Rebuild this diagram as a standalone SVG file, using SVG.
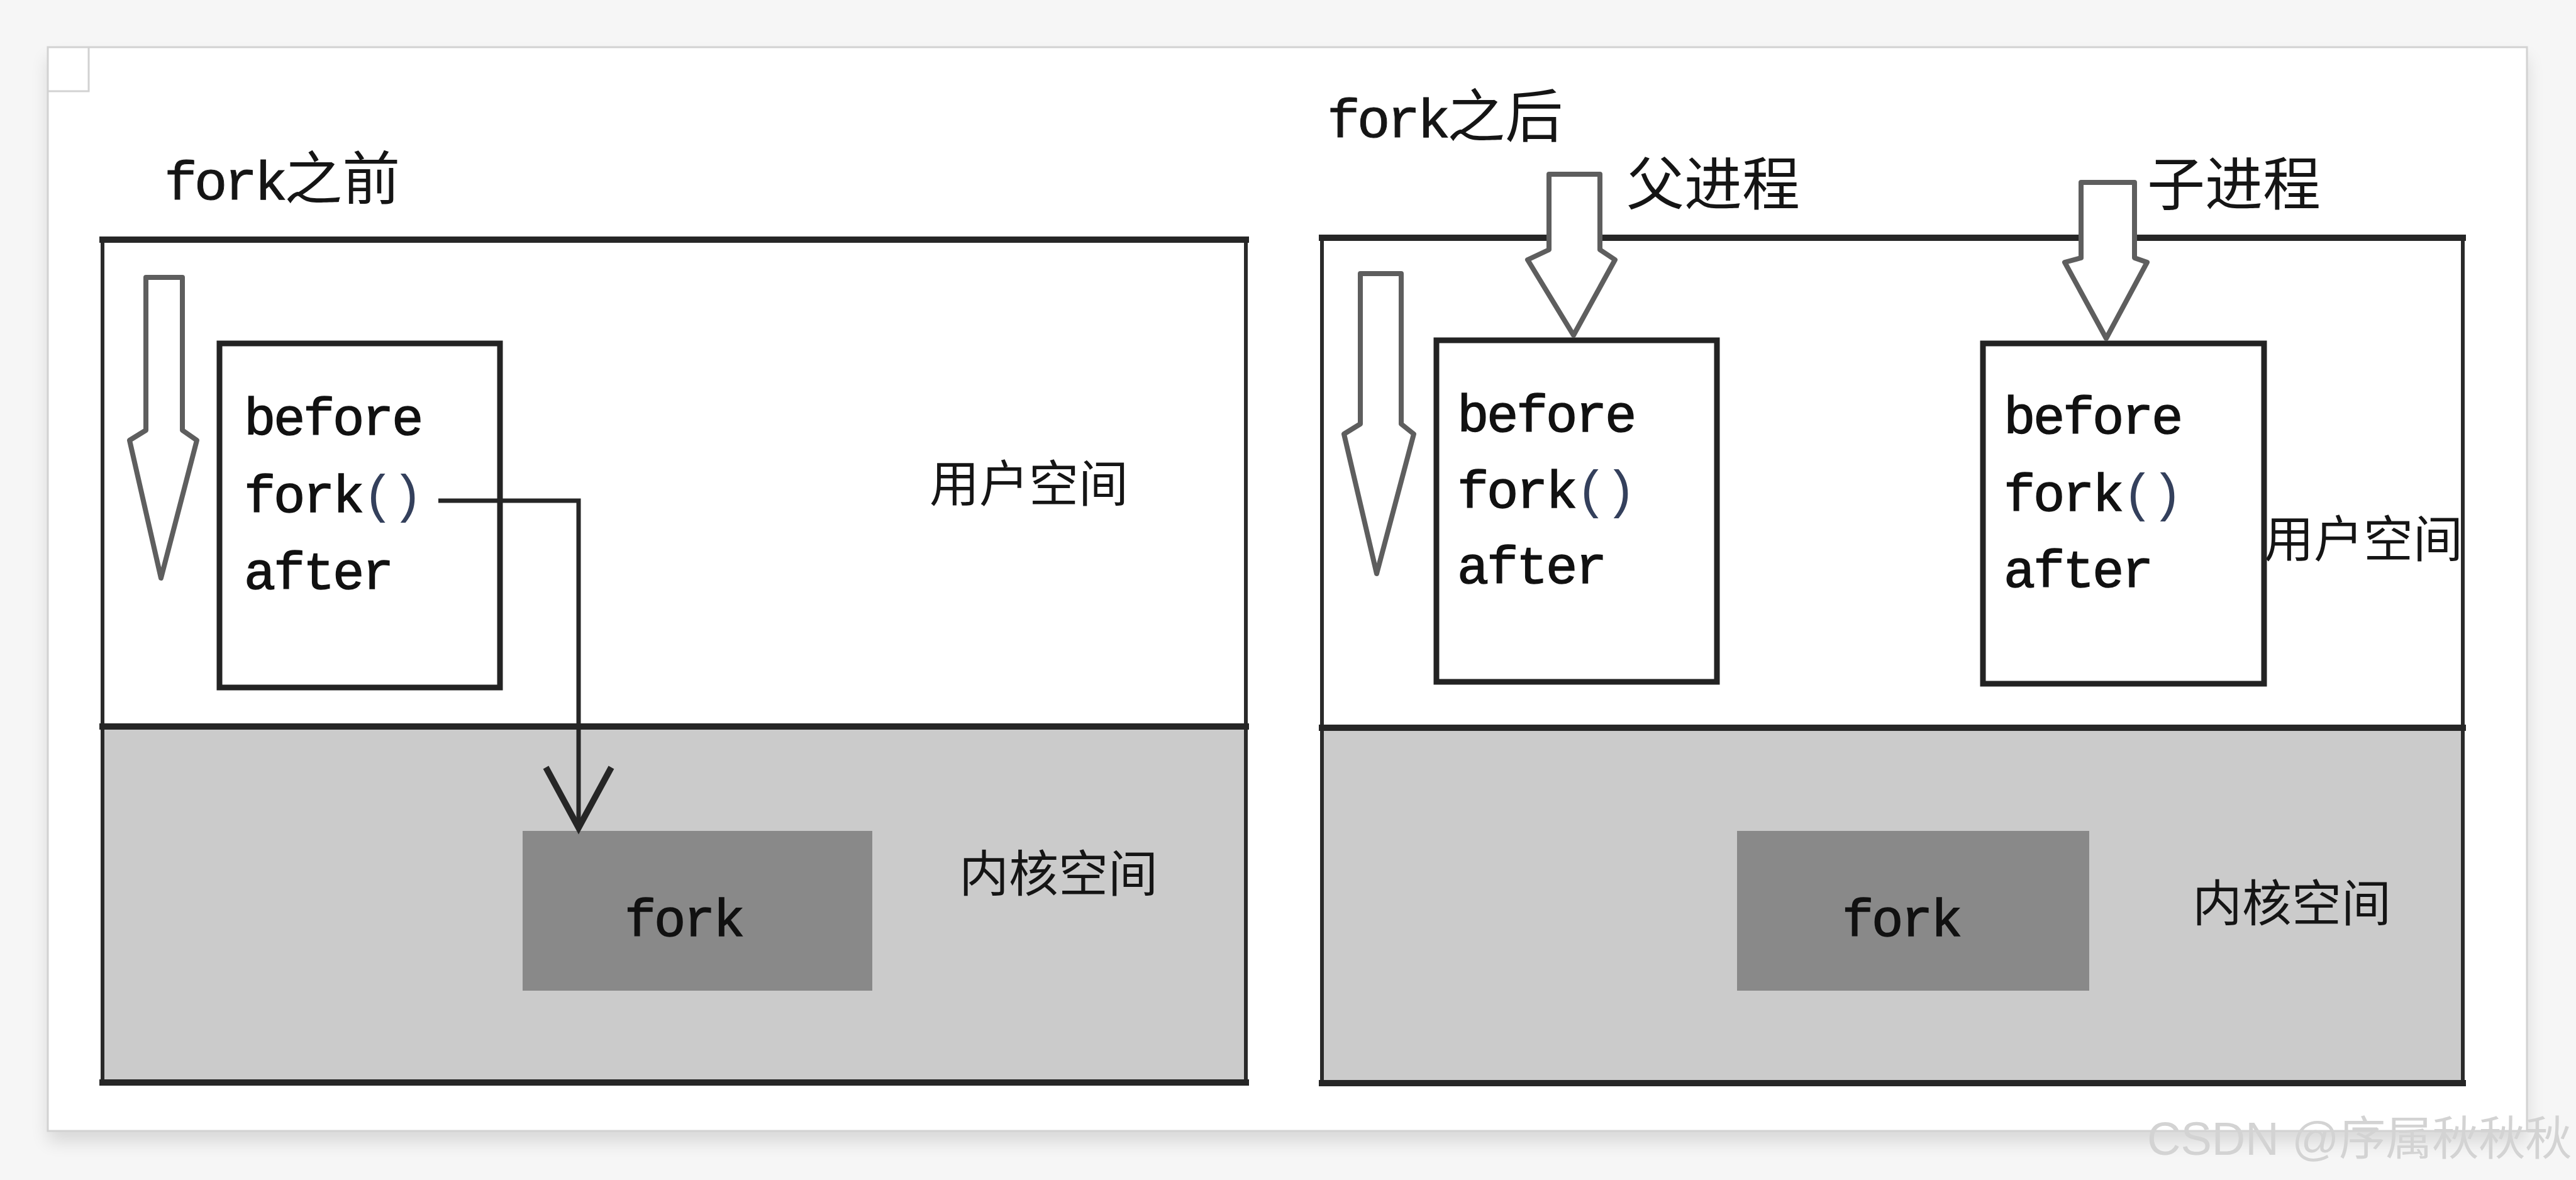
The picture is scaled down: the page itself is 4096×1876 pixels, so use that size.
<svg xmlns="http://www.w3.org/2000/svg" width="4096" height="1876" viewBox="0 0 4096 1876">
<defs>
<filter id="sh" x="-5%" y="-5%" width="110%" height="115%"><feGaussianBlur stdDeviation="14"/></filter>
</defs>
<style>
.code{font-family:"Liberation Mono",monospace;font-size:84px;letter-spacing:-3.4px;fill:#111111;stroke:#111111;stroke-width:1.5px}
.title{font-family:"Liberation Mono",monospace;font-size:88px;letter-spacing:-5px;fill:#151515;stroke:#151515;stroke-width:1px}
.cjk{font-family:"Noto Sans CJK SC",sans-serif;fill:#151515}
.lbl{font-size:79px}
.head{font-size:92px}
.user{fill:#ffffff}
.kern{fill:#cbcbcb}
.edge{fill:none;stroke:#2a2a2a;stroke-width:6}
.bar{stroke:#262626;stroke-width:10;stroke-linecap:square}
.codebox{fill:#ffffff;stroke:#232323;stroke-width:9}
.forkbox{fill:#898989}
.blk{fill:#ffffff;stroke:#5e5e5e;stroke-width:8;stroke-linejoin:round}
.conn{fill:none;stroke:#262626;stroke-width:7}
.vhead{fill:none;stroke:#262626;stroke-width:10;stroke-linejoin:miter}
.par{fill:#34405c;stroke:none}
</style>
<rect x="0" y="0" width="4096" height="1876" fill="#f6f6f6"/>
<rect x="76" y="92" width="3942" height="1723" fill="#000" opacity="0.12" filter="url(#sh)"/>
<g id="page">
<rect x="76" y="75" width="3942" height="1723" fill="#ffffff" stroke="#d2d2d2" stroke-width="3"/>
<path d="M76 145 H141 V75" fill="none" stroke="#d2d2d2" stroke-width="3"/>
</g>

<g id="left-panel">
<g id="left-user-space">
<rect class="user" x="163" y="381" width="1818" height="774"/>
</g>
<g id="left-kernel-space">
<rect class="kern" x="163" y="1155" width="1818" height="566"/>
</g>
<rect class="edge" x="163" y="381" width="1818" height="1340"/>
<line class="bar" x1="163" y1="381" x2="1981" y2="381"/>
<line class="bar" x1="163" y1="1155" x2="1981" y2="1155"/>
<line class="bar" x1="163" y1="1721" x2="1981" y2="1721"/>
<text class="cjk lbl" x="1478" y="798">用户空间</text>
<text class="cjk lbl" x="1525" y="1418">内核空间</text>
</g>
<g id="left-title"><text x="261" y="317"><tspan class="title">fork</tspan><tspan class="cjk head">之前</tspan></text></g>
<g id="left-code">
<rect class="codebox" x="349" y="546" width="446" height="547"/>
<text class="code" x="388" y="691">before</text>
<text class="code" x="388" y="814">fork<tspan class="par">()</tspan></text>
<text class="code" x="388" y="936">after</text>
</g>
<g id="left-fork">
<rect class="forkbox" x="831" y="1321" width="556" height="254"/>
<text class="code" x="1087" y="1488" text-anchor="middle">fork</text>
</g>

<g id="right-panel">
<g id="right-user-space">
<rect class="user" x="2102" y="378" width="1814" height="779"/>
</g>
<g id="right-kernel-space">
<rect class="kern" x="2102" y="1157" width="1814" height="565"/>
</g>
<rect class="edge" x="2102" y="378" width="1814" height="1344"/>
<line class="bar" x1="2102" y1="378" x2="3916" y2="378"/>
<line class="bar" x1="2102" y1="1157" x2="3916" y2="1157"/>
<line class="bar" x1="2102" y1="1722" x2="3916" y2="1722"/>
<text class="cjk lbl" x="3600" y="886">用户空间</text>
<text class="cjk lbl" x="3486" y="1465">内核空间</text>
</g>
<g id="right-title"><text x="2110" y="218"><tspan class="title">fork</tspan><tspan class="cjk head">之后</tspan></text></g>
<g id="parent-label"><text class="cjk head" x="2586" y="326">父进程</text></g>
<g id="child-label"><text class="cjk head" x="3414" y="326">子进程</text></g>
<g id="parent-code">
<rect class="codebox" x="2284" y="541" width="446" height="543"/>
<text class="code" x="2317" y="686">before</text>
<text class="code" x="2317" y="807">fork<tspan class="par">()</tspan></text>
<text class="code" x="2317" y="927">after</text>
</g>
<g id="child-code">
<rect class="codebox" x="3153" y="546" width="447" height="541"/>
<text class="code" x="3186" y="689">before</text>
<text class="code" x="3186" y="812">fork<tspan class="par">()</tspan></text>
<text class="code" x="3186" y="933">after</text>
</g>
<g id="right-fork">
<rect class="forkbox" x="2762" y="1321" width="560" height="254"/>
<text class="code" x="3023" y="1488" text-anchor="middle">fork</text>
</g>

<g id="connectors">
<path class="conn" d="M697 796 H920 V1312"/>
<polyline class="vhead" points="868,1220 920,1316 972,1220"/>
<polygon class="blk" points="232,441 290,441 290,684 313,700 256,919 206,700 232,684"/>
<polygon class="blk" points="2163,435 2228,435 2228,674 2248,690 2189,912 2137,690 2163,674"/>
<polygon class="blk" points="2463,277 2544,277 2544,397 2568,413 2502,533 2429,413 2463,397"/>
<polygon class="blk" points="3309,290 3394,290 3394,410 3414,417 3349,538 3283,417 3309,410"/>
</g>

<g id="watermark"><text x="3414" y="1836" font-family="Liberation Sans, Noto Sans CJK SC, sans-serif" font-size="74" fill="#d3d3d3">CSDN @序属秋秋秋</text></g>
</svg>
